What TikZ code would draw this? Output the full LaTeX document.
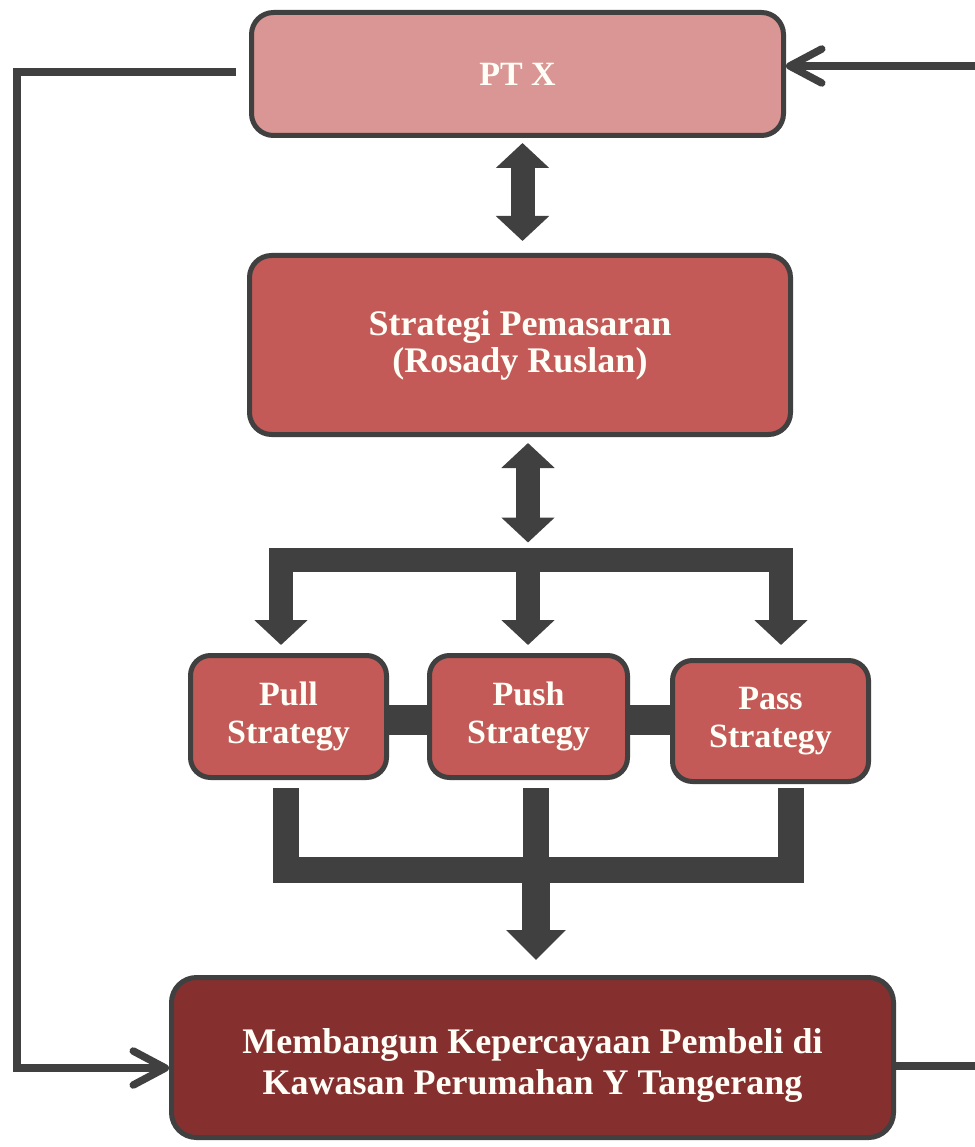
\documentclass[tikz,border=0pt]{standalone}
\usepackage{fontspec}
\setmainfont{Liberation Serif}
\usetikzlibrary{arrows.meta,backgrounds}
\definecolor{dk}{HTML}{404040}
\definecolor{ptxfill}{HTML}{D99694}
\definecolor{midfill}{HTML}{C45A57}
\definecolor{botfill}{HTML}{862F2F}
\definecolor{txt}{HTML}{FFFFF8}
\tikzset{
  box/.style={draw=dk, line width=5pt, rounded corners=22pt, align=center, text=txt, font=\bfseries, inner sep=0pt},
  lbl/.style={align=center, text=txt, inner sep=0pt},
  conn/.style={draw=dk, line width=7.5pt},
  barb/.style={-{Straight Barb[length=32pt,width=34pt,line cap=round,line join=round]}},
  blk/.style={draw=dk, line width=24pt, line join=miter},
  tri/.tip={Triangle[length=25pt,width=52pt]},
  trib/.tip={Triangle[length=30pt,width=58pt]},
}
\begin{document}
\begin{tikzpicture}[x=1pt,y=-1pt]
\useasboundingbox (0,0) rectangle (974,1147);
\clip (0,0) rectangle (974,1147);
% nodes
\node[box, fill=ptxfill, minimum width=532pt, minimum height=123pt, font=\bfseries\fontsize{34}{38}\selectfont] (ptx) at (517.5,74) {PT X};
\node[box, fill=midfill, minimum width=541pt, minimum height=179pt, font=\bfseries\fontsize{36}{37}\selectfont] (str) at (520,345) {Strategi Pemasaran\\(Rosady Ruslan)};
\node[box, fill=midfill, rounded corners=20pt, minimum width=196pt, minimum height=122pt, font=\bfseries\fontsize{34}{38}\selectfont] (pull) at (288.5,716.5) {Pull\\Strategy};
\node[box, fill=midfill, rounded corners=20pt, minimum width=198pt, minimum height=122pt, font=\bfseries\fontsize{34}{38}\selectfont] (push) at (528.5,716.5) {Push\\Strategy};
\node[box, fill=midfill, rounded corners=20pt, minimum width=196pt, minimum height=121pt, font=\bfseries\fontsize{34}{38}\selectfont] (pass) at (770.5,721) {Pass\\Strategy};
\node[box, fill=botfill, rounded corners=25pt, minimum width=722pt, minimum height=160pt] (bot) at (532.5,1057.5) {};
\node[lbl, font=\bfseries\fontsize{36}{41}\selectfont] (botlbl) at ([yshift=-8pt]bot.center) {Membangun Kepercayaan Pembeli di\\Kawasan Perumahan Y Tangerang};
\coordinate (L) at (17,1068);
\coordinate (R) at (985,66);
\coordinate (bm) at (528,559.5);
\coordinate (bm2) at (536,869.5);
\begin{scope}[on background layer]
% feedback connectors
\draw[conn, barb] ([xshift=-13pt,yshift=2pt]ptx.west) -| (L) -- ([yshift=-10.5pt]bot.west);
\draw[conn, barb] ([yshift=-8.5pt]bot.east) -| (R) -- ([yshift=8pt]ptx.east);
% double arrows
\draw[blk, {tri}-{tri}] ([xshift=5pt,yshift=-5pt]ptx.south) -- ([xshift=2.5pt,yshift=12pt]str.north);
\draw[blk, {tri}-{tri}] ([xshift=8pt,yshift=-6pt]str.south) -- ([yshift=17pt]bm);
% branch
\draw[blk, {tri}-{tri}] ([xshift=-7.5pt,yshift=8pt]pull.north) |- (bm) -| ([xshift=10.5pt,yshift=13pt]pass.north);
\draw[blk, -{tri}] (bm) -- ([xshift=-0.5pt,yshift=8pt]push.north);
% side links
\draw[dk, line width=30pt] ([yshift=-3.5pt]pull.east) -- ([yshift=-3.5pt]push.west);
\draw[dk, line width=30pt] ([yshift=-3.5pt]push.east) -- ([yshift=1pt]pass.west);
% lower bracket
\draw[blk, line width=26pt] ([xshift=-2.5pt,yshift=-8pt]pull.south) |- (bm2) -| ([xshift=20pt,yshift=-4pt]pass.south);
\draw[blk, line width=26pt] ([xshift=7.5pt,yshift=-8pt]push.south) -- (bm2);
\draw[blk, line width=28pt, -{trib}] (bm2) -- ([xshift=3.5pt,yshift=15pt]bot.north);
\end{scope}
\end{tikzpicture}
\end{document}
